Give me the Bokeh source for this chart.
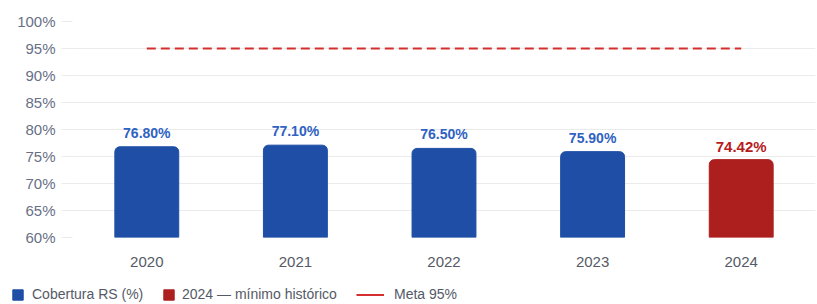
from bokeh.plotting import figure
from bokeh.models import (FactorRange, Range1d, FixedTicker, PrintfTickFormatter,
                          Legend, LegendItem, ColumnDataSource)
from bokeh.embed import file_html
from bokeh.resources import INLINE
from bokeh.core.properties import value

# ---- data ----
years = ["2020", "2021", "2022", "2023", "2024"]
coverage = [76.80, 77.10, 76.50, 75.90, 74.42]
meta = 95
y_ticks = [60, 65, 70, 75, 80, 85, 90, 95, 100]
legend_labels = ["Cobertura RS (%)", "2024 — mínimo histórico", "Meta 95%"]

BLUE = "#1f4ea6"
RED = "#ad1f1f"
BLUE_TXT = "#2f62c2"
RED_TXT = "#b71c1c"
META_C = "#d32f2f"
FONT = "Liberation Sans"

hist_years = years[:-1]
hist_vals = coverage[:-1]
last_year = [years[-1]]
last_val = [coverage[-1]]

p = figure(x_range=FactorRange(*years, range_padding=0), y_range=Range1d(60, 100),
           width=816, height=277, output_backend="svg", toolbar_location=None,
           min_border_left=72, min_border_right=1, min_border_top=21, min_border_bottom=40)
p.outline_line_color = None

src_hist = ColumnDataSource(dict(x=hist_years, y=hist_vals,
                                 t=[f"{v:.2f}%" for v in hist_vals]))
src_last = ColumnDataSource(dict(x=last_year, y=last_val,
                                 t=[f"{v:.2f}%" for v in last_val]))

p.vbar(x="x", top="y", bottom=60, width=0.43, source=src_hist,
       fill_color=BLUE, line_color=BLUE, border_radius=(5, 5, 0, 0))
p.vbar(x="x", top="y", bottom=60, width=0.43, source=src_last,
       fill_color=RED, line_color=RED, border_radius=(5, 5, 0, 0))

p.line(x=years, y=[meta] * len(years), line_color=META_C, line_width=2, line_dash="9 5")

p.text(x="x", y="y", text="t", source=src_hist, text_align="center",
       text_baseline="alphabetic", y_offset=-14, text_color=BLUE_TXT,
       text_font=value(FONT), text_font_size="14px", text_font_style="bold")
p.text(x="x", y="y", text="t", source=src_last, text_align="center",
       text_baseline="alphabetic", y_offset=-13, text_color=RED_TXT,
       text_font=value(FONT), text_font_size="15px", text_font_style="bold")

# axes
p.xaxis.axis_line_color = None
p.xaxis.major_tick_line_color = None
p.xaxis.minor_tick_line_color = None
p.xaxis.major_label_standoff = 13
p.xaxis.major_label_text_font = FONT
p.xaxis.major_label_text_font_size = "15px"
p.xaxis.major_label_text_color = "#555a66"

p.yaxis.ticker = FixedTicker(ticks=y_ticks)
p.yaxis.formatter = PrintfTickFormatter(format="%d%%")
p.yaxis.axis_line_color = None
p.yaxis.major_tick_out = 11
p.yaxis.major_tick_in = 0
p.yaxis.major_tick_line_color = "#ebebeb"
p.yaxis.minor_tick_line_color = None
p.yaxis.major_label_standoff = 6
p.yaxis.major_label_text_font = FONT
p.yaxis.major_label_text_font_size = "15px"
p.yaxis.major_label_text_color = "#687085"

p.xgrid.grid_line_color = None
p.ygrid.grid_line_color = "#ebebeb"
p.ygrid.grid_line_width = 1

# ---- legend strip (separate root so its frame spans the full width) ----
lf = figure(width=816, height=26, output_backend="svg", toolbar_location=None,
            x_range=Range1d(0, 1), y_range=Range1d(0, 1),
            x_axis_type=None, y_axis_type=None,
            min_border_left=0, min_border_right=0, min_border_top=0, min_border_bottom=0)
lf.outline_line_color = None
lf.xgrid.grid_line_color = None
lf.ygrid.grid_line_color = None

# off-screen proxies: they only provide the legend swatches
off = dict(x=[5, 6], y=[5, 5])
lr_blue = lf.vbar(x="x", top="y", bottom=4, width=0.1, source=ColumnDataSource(off),
                  fill_color=BLUE, line_color=BLUE)
lr_red = lf.vbar(x="x", top="y", bottom=4, width=0.1, source=ColumnDataSource(off),
                 fill_color=RED, line_color=RED)
lr_meta = lf.line(x="x", y="y", source=ColumnDataSource(off),
                  line_color=META_C, line_width=2)

def mk_legend(item, loc, gw, gh, standoff):
    lg = Legend(items=[item], location=loc, orientation="horizontal",
                glyph_width=gw, glyph_height=gh, label_standoff=standoff,
                padding=0, margin=0, spacing=0, border_line_color=None,
                background_fill_alpha=0, label_text_font=FONT,
                label_text_font_size="14px", label_text_color="#555a66",
                label_height=16)
    lf.add_layout(lg, "center")

mk_legend(LegendItem(label=legend_labels[0], renderers=[lr_blue]), (11, 1), 13, 13, 8)
mk_legend(LegendItem(label=legend_labels[1], renderers=[lr_red]), (162, 1), 13, 13, 7)
mk_legend(LegendItem(label=legend_labels[2], renderers=[lr_meta]), (356, 1), 28, 13, 10)

open("out.html", "w").write(file_html([p, lf], INLINE))
